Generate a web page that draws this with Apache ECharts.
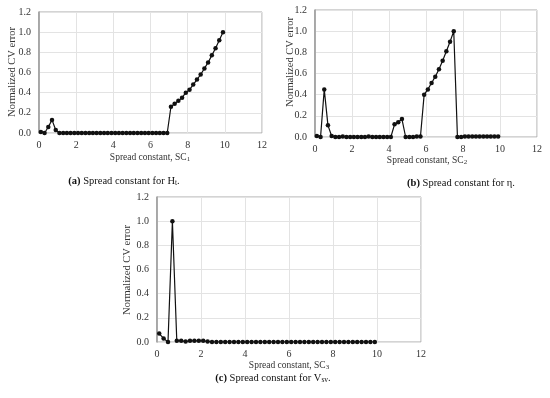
<!DOCTYPE html>
<html><head><meta charset="utf-8">
<script src="https://cdn.jsdelivr.net/npm/echarts@6/dist/echarts.min.js"></script>
<style>html,body{margin:0;padding:0;background:#fff}#c{width:550px;height:398px}</style>
</head><body><div id="c"></div>
<script>
var xs = [0.1,0.3,0.5,0.7,0.9,1.1,1.3,1.5,1.7,1.9,2.1,2.3,2.5,2.7,2.9,3.1,3.3,3.5,3.7,3.9,4.1,4.3,4.5,4.7,4.9,5.1,5.3,5.5,5.7,5.9,6.1,6.3,6.5,6.7,6.9,7.1,7.3,7.5,7.7,7.9,8.1,8.3,8.5,8.7,8.9,9.1,9.3,9.5,9.7,9.9];
var errA = [0.01,0,0.06,0.13,0.03,0,0,0,0,0,0,0,0,0,0,0,0,0,0,0,0,0,0,0,0,0,0,0,0,0,0,0,0,0,0,0.26,0.29,0.32,0.35,0.40,0.43,0.48,0.53,0.58,0.64,0.70,0.77,0.84,0.92,1.0];
var errB = [0.01,0,0.45,0.11,0.01,0,0,0.005,0,0,0,0,0,0,0.005,0,0,0,0,0,0,0.12,0.14,0.17,0,0,0,0.005,0.005,0.40,0.45,0.51,0.57,0.64,0.72,0.81,0.90,1.0,0,0,0.005,0.005,0.005,0.005,0.005,0.005,0.005,0.005,0.005,0.005];
var errC = [0.07,0.03,0,1.0,0.01,0.01,0.005,0.01,0.01,0.01,0.01,0.005,0,0,0,0,0,0,0,0,0,0,0,0,0,0,0,0,0,0,0,0,0,0,0,0,0,0,0,0,0,0,0,0,0,0,0,0,0,0];
var xTitles = ['SC|1','SC|2','SC|3'];
var captions = [['(a)',' Spread constant for H','t','.'],['(b)',' Spread constant for η.','',''],['(c)',' Spread constant for V','sv','.']];

var FONT = '"Liberation Serif","DejaVu Serif",serif';
var grids = [
  {left:39, top:12, width:223, height:121},
  {left:315, top:10, width:222, height:127},
  {left:157, top:197, width:264, height:145}
];
var xAxis = [], yAxis = [], series = [], graphic = [];
var datasets = [errA, errB, errC];
grids.forEach(function(g, i){
  g.show = true; g.borderColor = '#a8a8a8'; g.borderWidth = 1;
  xAxis.push({type:'value', gridIndex:i, min:0, max:12, interval:2,
    axisLine:{show:false}, axisTick:{show:false},
    axisLabel:{fontFamily:FONT, fontSize:10, color:'#333', margin:7},
    splitLine:{show:true, lineStyle:{color:'#e3e3e3', width:1}}});
  yAxis.push({type:'value', gridIndex:i, min:0, max:1.2, interval:0.2,
    axisLine:{show:true, lineStyle:{color:'#999', width:1.5}}, axisTick:{show:false},
    axisLabel:{fontFamily:FONT, fontSize:10, color:'#333', margin:8, formatter:function(v){return v.toFixed(1);}},
    splitLine:{show:true, lineStyle:{color:'#e3e3e3', width:1}}});
  series.push({type:'line', xAxisIndex:i, yAxisIndex:i,
    data: xs.map(function(x, k){ return [x, datasets[i][k]]; }),
    symbol:'circle', symbolSize:4.5, itemStyle:{color:'#111'},
    lineStyle:{color:'#111', width:1.2}, animation:false});
});
var yNamePos = [[12,72],[290,62],[127,270]];
yNamePos.forEach(function(p){
  graphic.push({type:'text', x:p[0], y:p[1], rotation:Math.PI/2,
    style:{text:'Normalized CV error', font:'10.5px '+FONT, fill:'#333', align:'center', verticalAlign:'middle'}});
});
var xTitlePos = [[150,157],[427,160],[289,365]];
xTitlePos.forEach(function(p, i){
  var parts = xTitles[i].split('|');
  graphic.push({type:'text', x:p[0], y:p[1],
    style:{text:'Spread constant, {n|'+parts[0]+'}{s|'+parts[1]+'}', align:'center', verticalAlign:'middle',
      rich:{n:{font:'9.5px '+FONT, fill:'#333'}, s:{font:'7px '+FONT, fill:'#333', padding:[5,0,0,0]}},
      font:'9.5px '+FONT, fill:'#333'}});
});
var capPos = [[124,181],[461,183],[273,378]];
capPos.forEach(function(p, i){
  var c = captions[i];
  graphic.push({type:'text', x:p[0], y:p[1],
    style:{text:'{b|'+c[0]+'}{n|'+c[1]+'}' + (c[2] ? '{s|'+c[2]+'}' : '') + (c[3] ? '{n|'+c[3]+'}' : ''),
      align:'center', verticalAlign:'middle',
      rich:{b:{font:'bold 10.5px '+FONT, fill:'#111'}, n:{font:'10.5px '+FONT, fill:'#111'}, s:{font:'7.5px '+FONT, fill:'#111', padding:[5,0,0,0]}}}});
});
var chart = echarts.init(document.getElementById('c'), null, {renderer:'canvas'});
chart.setOption({animation:false, grid:grids, xAxis:xAxis, yAxis:yAxis, series:series, graphic:graphic});
</script></body></html>
